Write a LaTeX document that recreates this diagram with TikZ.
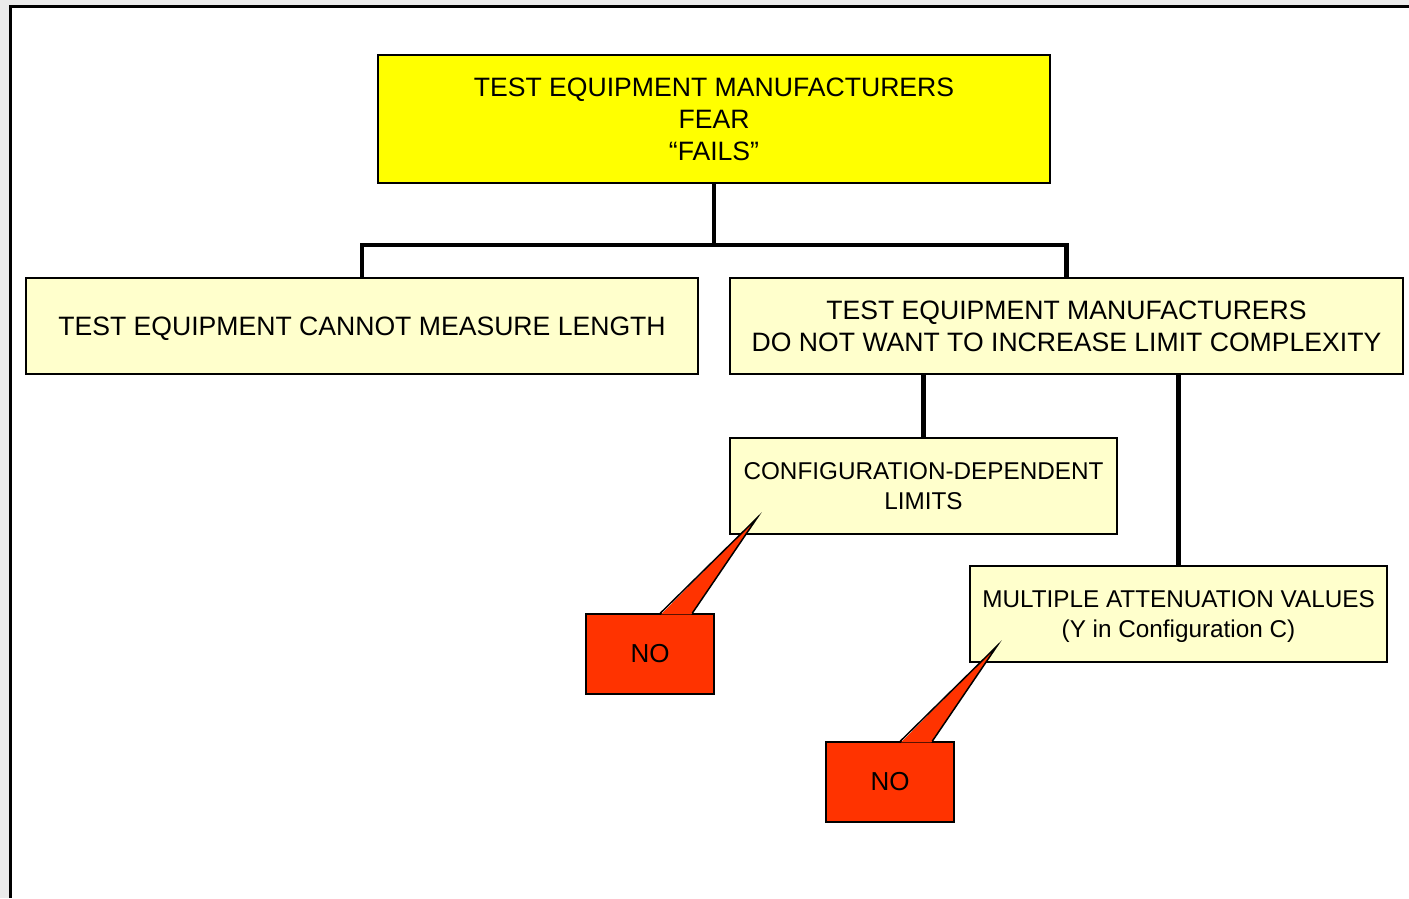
\documentclass[tikz,border=0pt]{standalone}
\usepackage{fontspec}
\setmainfont{Liberation Sans}
\usetikzlibrary{calc,positioning}
\definecolor{paleyel}{HTML}{FFFFCC}
\definecolor{fearyel}{RGB}{255,255,0}
\definecolor{norred}{HTML}{FF3300}
\definecolor{pagegray}{HTML}{EBEBEB}
\tikzset{blk/.style={draw, line width=1.5pt, fill=paleyel, inner sep=0pt, align=center, text depth=0pt, font=\fontsize{26.6}{32}\selectfont},
  small/.style={font=\fontsize{24.3}{29.5}\selectfont},
  link/.style={line width=4.5pt},
  nobox/.style={draw, line width=1.5pt, fill=norred, inner sep=0pt, minimum width=128, minimum height=80, font=\fontsize{26}{30}\selectfont},
  beak/.style={line width=1.5pt, line join=miter, miter limit=20}}

\begin{document}
\begin{tikzpicture}[x=1pt,y=-1pt]
  \useasboundingbox (0,0) rectangle (1409,898);
  % page and frame
  \fill[pagegray] (0,0) rectangle (1409,898);
  \fill[white] (10,6) rectangle (1409,898);
  \draw[line width=3pt] (10,898) -- (10,6) -- (1409,6);
  % boxes
  \node[blk, fill=fearyel, minimum width=672, minimum height=128] (fear) at (714,119) {TEST EQUIPMENT MANUFACTURERS\\FEAR\\“FAILS”};
  \node[blk, minimum width=672, minimum height=96] (cannot) at (362,326) {TEST EQUIPMENT CANNOT MEASURE LENGTH};
  \node[blk, minimum width=673, minimum height=96] (complex) at (1066.5,326) {TEST EQUIPMENT MANUFACTURERS\\DO NOT WANT TO INCREASE LIMIT COMPLEXITY};
  \node[blk, small, minimum width=387, minimum height=96] (config) at (923.5,486) {CONFIGURATION-DEPENDENT\\LIMITS};
  \node[blk, small, minimum width=417, minimum height=96] (atten) at (1178.5,614) {MULTIPLE ATTENUATION VALUES\\(Y in Configuration C)};
  % tree lines
  \coordinate (split) at (714,245);
  \draw[link] (fear.south) -- (split);
  \draw[link] (cannot.north) -- (cannot.north |- split) -- (complex.north |- split) -- (complex.north);
  \draw[link] (complex.south -| config.north) -- (config.north);
  \draw[link] (complex.south -| atten.north) -- (atten.north);
  % NO callouts
  \coordinate (tip1) at (757,518);
  \coordinate (tip2) at (997,646);
  \node[nobox] (no1) at (650,654) {NO};
  \node[nobox] (no2) at (890,782) {NO};
  \foreach \n/\t in {no1/tip1, no2/tip2}{
    \fill[norred] ($(\n.north west)+(75.8,1)$) -- (\t) -- ($(\n.north west)+(106.2,1)$) -- cycle;
    \draw[beak] ($(\n.north west)+(75,0)$) -- (\t) -- ($(\n.north west)+(107,0)$);}
\end{tikzpicture}
\end{document}
